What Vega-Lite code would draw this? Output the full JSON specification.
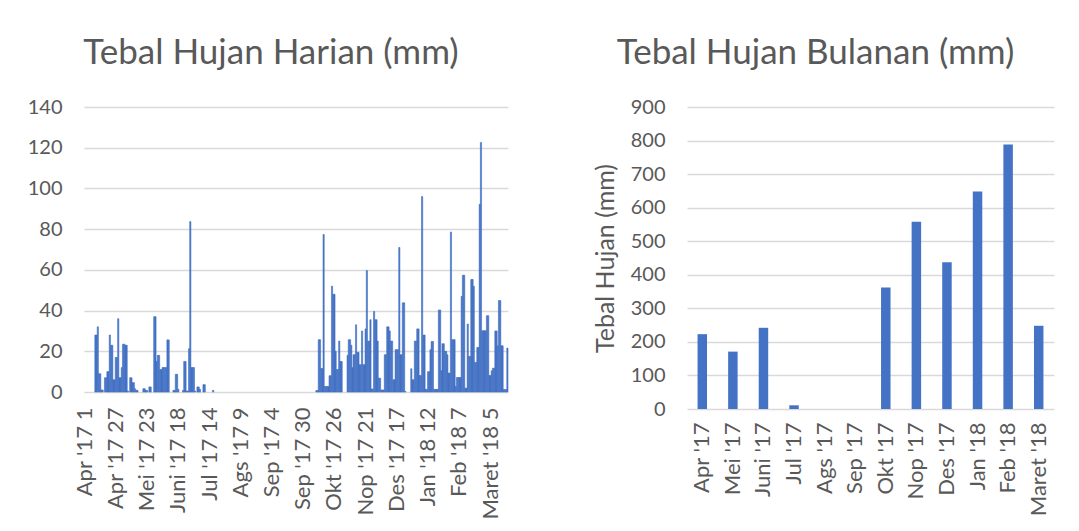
{
"$schema": "https://vega.github.io/schema/vega-lite/v6.json",
"background": "white",
"autosize": {"type": "pad"},
"padding": {"left": 27, "top": 36, "right": 5, "bottom": 5},
"spacing": 75,
"config": {
  "font": "Lato",
  "view": {"stroke": null},
  "axis": {"labelFont": "Lato", "labelColor": "#595959", "labelFontSize": 20, "ticks": false, "domain": false, "gridColor": "#d9d9d9", "gridWidth": 1.3, "titleFont": "Lato", "titleColor": "#595959", "titleFontWeight": "normal"},
  "title": {"font": "Lato", "fontSize": 35, "fontWeight": "normal", "color": "#595959", "frame": "group", "baseline": "alphabetic", "offset": 26, "anchor": "middle"}
},
"hconcat": [
{
  "width": 424, "height": 285,
  "title": {"text": "Tebal Hujan Harian (mm)", "dx": -25},
  "data": {"values": [
{"t":"Apr '17 1","v":0},{"t":"Apr '17 2","v":0},{"t":"Apr '17 3","v":0},{"t":"Apr '17 4","v":0},{"t":"Apr '17 5","v":0},{"t":"Apr '17 6","v":0},{"t":"Apr '17 7","v":0},{"t":"Apr '17 8","v":0},{"t":"Apr '17 9","v":0},{"t":"Apr '17 10","v":28},
{"t":"Apr '17 11","v":28},{"t":"Apr '17 12","v":32},{"t":"Apr '17 13","v":9},{"t":"Apr '17 14","v":9},{"t":"Apr '17 15","v":1},{"t":"Apr '17 16","v":1},{"t":"Apr '17 17","v":0},{"t":"Apr '17 18","v":7},{"t":"Apr '17 19","v":7},{"t":"Apr '17 20","v":10},
{"t":"Apr '17 21","v":10},{"t":"Apr '17 22","v":28},{"t":"Apr '17 23","v":23},{"t":"Apr '17 24","v":23},{"t":"Apr '17 25","v":6},{"t":"Apr '17 26","v":6},{"t":"Apr '17 27","v":17},{"t":"Apr '17 28","v":17},{"t":"Apr '17 29","v":36},{"t":"Apr '17 30","v":7},
{"t":"Mei '17 1","v":7},{"t":"Mei '17 2","v":12},{"t":"Mei '17 3","v":23.5},{"t":"Mei '17 4","v":23.5},{"t":"Mei '17 5","v":23},{"t":"Mei '17 6","v":23},{"t":"Mei '17 7","v":0.5},{"t":"Mei '17 8","v":0},{"t":"Mei '17 9","v":7},{"t":"Mei '17 10","v":7},
{"t":"Mei '17 11","v":4.6},{"t":"Mei '17 12","v":4.6},{"t":"Mei '17 13","v":1.6},{"t":"Mei '17 14","v":0.8},{"t":"Mei '17 15","v":0.8},{"t":"Mei '17 16","v":0},{"t":"Mei '17 17","v":0},{"t":"Mei '17 18","v":0},{"t":"Mei '17 19","v":0},{"t":"Mei '17 20","v":1.6},
{"t":"Mei '17 21","v":1.6},{"t":"Mei '17 22","v":0.8},{"t":"Mei '17 23","v":0.8},{"t":"Mei '17 24","v":0},{"t":"Mei '17 25","v":2.5},{"t":"Mei '17 26","v":2.5},{"t":"Mei '17 27","v":0},{"t":"Mei '17 28","v":0},{"t":"Mei '17 29","v":37},{"t":"Mei '17 30","v":37},{"t":"Mei '17 31","v":15},
{"t":"Juni '17 1","v":18},{"t":"Juni '17 2","v":18},{"t":"Juni '17 3","v":11},{"t":"Juni '17 4","v":11},{"t":"Juni '17 5","v":12},{"t":"Juni '17 6","v":12},{"t":"Juni '17 7","v":12},{"t":"Juni '17 8","v":12},{"t":"Juni '17 9","v":25.6},{"t":"Juni '17 10","v":25.6},
{"t":"Juni '17 11","v":0},{"t":"Juni '17 12","v":0},{"t":"Juni '17 13","v":0},{"t":"Juni '17 14","v":0.8},{"t":"Juni '17 15","v":0.8},{"t":"Juni '17 16","v":8.7},{"t":"Juni '17 17","v":8.7},{"t":"Juni '17 18","v":1.3},{"t":"Juni '17 19","v":0},{"t":"Juni '17 20","v":0},
{"t":"Juni '17 21","v":0},{"t":"Juni '17 22","v":0.8},{"t":"Juni '17 23","v":15},{"t":"Juni '17 24","v":15},{"t":"Juni '17 25","v":0.5},{"t":"Juni '17 26","v":0.5},{"t":"Juni '17 27","v":21.3},{"t":"Juni '17 28","v":83.7},{"t":"Juni '17 29","v":12},{"t":"Juni '17 30","v":12},
{"t":"Jul '17 1","v":12},{"t":"Jul '17 2","v":0.5},{"t":"Jul '17 3","v":0},{"t":"Jul '17 4","v":2.5},{"t":"Jul '17 5","v":2.5},{"t":"Jul '17 6","v":1.3},{"t":"Jul '17 7","v":0},{"t":"Jul '17 8","v":0},{"t":"Jul '17 9","v":3.6},{"t":"Jul '17 10","v":3.6},
{"t":"Jul '17 11","v":0},{"t":"Jul '17 12","v":0},{"t":"Jul '17 13","v":0},{"t":"Jul '17 14","v":0},{"t":"Jul '17 15","v":0},{"t":"Jul '17 16","v":0},{"t":"Jul '17 17","v":0.8},{"t":"Jul '17 18","v":0},{"t":"Jul '17 19","v":0},{"t":"Jul '17 20","v":0},
{"t":"Jul '17 21","v":0},{"t":"Jul '17 22","v":0},{"t":"Jul '17 23","v":0},{"t":"Jul '17 24","v":0},{"t":"Jul '17 25","v":0},{"t":"Jul '17 26","v":0},{"t":"Jul '17 27","v":0},{"t":"Jul '17 28","v":0},{"t":"Jul '17 29","v":0},{"t":"Jul '17 30","v":0},{"t":"Jul '17 31","v":0},
{"t":"Ags '17 1","v":0},{"t":"Ags '17 2","v":0},{"t":"Ags '17 3","v":0},{"t":"Ags '17 4","v":0},{"t":"Ags '17 5","v":0},{"t":"Ags '17 6","v":0},{"t":"Ags '17 7","v":0},{"t":"Ags '17 8","v":0},{"t":"Ags '17 9","v":0},{"t":"Ags '17 10","v":0},
{"t":"Ags '17 11","v":0},{"t":"Ags '17 12","v":0},{"t":"Ags '17 13","v":0},{"t":"Ags '17 14","v":0},{"t":"Ags '17 15","v":0},{"t":"Ags '17 16","v":0},{"t":"Ags '17 17","v":0},{"t":"Ags '17 18","v":0},{"t":"Ags '17 19","v":0},{"t":"Ags '17 20","v":0},
{"t":"Ags '17 21","v":0},{"t":"Ags '17 22","v":0},{"t":"Ags '17 23","v":0},{"t":"Ags '17 24","v":0},{"t":"Ags '17 25","v":0},{"t":"Ags '17 26","v":0},{"t":"Ags '17 27","v":0},{"t":"Ags '17 28","v":0},{"t":"Ags '17 29","v":0},{"t":"Ags '17 30","v":0},{"t":"Ags '17 31","v":0},
{"t":"Sep '17 1","v":0},{"t":"Sep '17 2","v":0},{"t":"Sep '17 3","v":0},{"t":"Sep '17 4","v":0},{"t":"Sep '17 5","v":0},{"t":"Sep '17 6","v":0},{"t":"Sep '17 7","v":0},{"t":"Sep '17 8","v":0},{"t":"Sep '17 9","v":0},{"t":"Sep '17 10","v":0},
{"t":"Sep '17 11","v":0},{"t":"Sep '17 12","v":0},{"t":"Sep '17 13","v":0},{"t":"Sep '17 14","v":0},{"t":"Sep '17 15","v":0},{"t":"Sep '17 16","v":0},{"t":"Sep '17 17","v":0},{"t":"Sep '17 18","v":0},{"t":"Sep '17 19","v":0},{"t":"Sep '17 20","v":0},
{"t":"Sep '17 21","v":0},{"t":"Sep '17 22","v":0},{"t":"Sep '17 23","v":0},{"t":"Sep '17 24","v":0},{"t":"Sep '17 25","v":0},{"t":"Sep '17 26","v":0},{"t":"Sep '17 27","v":0},{"t":"Sep '17 28","v":0},{"t":"Sep '17 29","v":0},{"t":"Sep '17 30","v":0},
{"t":"Okt '17 1","v":0},{"t":"Okt '17 2","v":0},{"t":"Okt '17 3","v":0},{"t":"Okt '17 4","v":0},{"t":"Okt '17 5","v":0},{"t":"Okt '17 6","v":0},{"t":"Okt '17 7","v":0},{"t":"Okt '17 8","v":0},{"t":"Okt '17 9","v":0},{"t":"Okt '17 10","v":0},
{"t":"Okt '17 11","v":0.7},{"t":"Okt '17 12","v":0.7},{"t":"Okt '17 13","v":25.7},{"t":"Okt '17 14","v":25.7},{"t":"Okt '17 15","v":11.5},{"t":"Okt '17 16","v":11.5},{"t":"Okt '17 17","v":77.4},{"t":"Okt '17 18","v":2.7},{"t":"Okt '17 19","v":2.7},{"t":"Okt '17 20","v":2.7},
{"t":"Okt '17 21","v":2.7},{"t":"Okt '17 22","v":8},{"t":"Okt '17 23","v":8},{"t":"Okt '17 24","v":52},{"t":"Okt '17 25","v":48},{"t":"Okt '17 26","v":48},{"t":"Okt '17 27","v":20},{"t":"Okt '17 28","v":11},{"t":"Okt '17 29","v":11},{"t":"Okt '17 30","v":25},{"t":"Okt '17 31","v":15},
{"t":"Nop '17 1","v":15},{"t":"Nop '17 2","v":0},{"t":"Nop '17 3","v":0},{"t":"Nop '17 4","v":0},{"t":"Nop '17 5","v":0},{"t":"Nop '17 6","v":18},{"t":"Nop '17 7","v":25.7},{"t":"Nop '17 8","v":25.7},{"t":"Nop '17 9","v":23},{"t":"Nop '17 10","v":12},
{"t":"Nop '17 11","v":18.3},{"t":"Nop '17 12","v":18.3},{"t":"Nop '17 13","v":33},{"t":"Nop '17 14","v":19.5},{"t":"Nop '17 15","v":19.5},{"t":"Nop '17 16","v":13.4},{"t":"Nop '17 17","v":13.4},{"t":"Nop '17 18","v":30},{"t":"Nop '17 19","v":13.4},{"t":"Nop '17 20","v":13.4},
{"t":"Nop '17 21","v":31},{"t":"Nop '17 22","v":59.7},{"t":"Nop '17 23","v":25},{"t":"Nop '17 24","v":25},{"t":"Nop '17 25","v":35.5},{"t":"Nop '17 26","v":1.5},{"t":"Nop '17 27","v":1.5},{"t":"Nop '17 28","v":39.6},{"t":"Nop '17 29","v":35.5},{"t":"Nop '17 30","v":35.5},
{"t":"Des '17 1","v":25},{"t":"Des '17 2","v":6.8},{"t":"Des '17 3","v":6.8},{"t":"Des '17 4","v":1},{"t":"Des '17 5","v":1},{"t":"Des '17 6","v":1},{"t":"Des '17 7","v":18.3},{"t":"Des '17 8","v":18.3},{"t":"Des '17 9","v":32},{"t":"Des '17 10","v":32},
{"t":"Des '17 11","v":30},{"t":"Des '17 12","v":25},{"t":"Des '17 13","v":25},{"t":"Des '17 14","v":6},{"t":"Des '17 15","v":6},{"t":"Des '17 16","v":20.8},{"t":"Des '17 17","v":20.8},{"t":"Des '17 18","v":20.8},{"t":"Des '17 19","v":71},{"t":"Des '17 20","v":18.3},
{"t":"Des '17 21","v":18.3},{"t":"Des '17 22","v":43.8},{"t":"Des '17 23","v":43.8},{"t":"Des '17 24","v":0.3},{"t":"Des '17 25","v":0},{"t":"Des '17 26","v":0},{"t":"Des '17 27","v":0},{"t":"Des '17 28","v":0},{"t":"Des '17 29","v":11.4},{"t":"Des '17 30","v":6},{"t":"Des '17 31","v":6},
{"t":"Jan '18 1","v":25},{"t":"Jan '18 2","v":25},{"t":"Jan '18 3","v":31},{"t":"Jan '18 4","v":31},{"t":"Jan '18 5","v":8.1},{"t":"Jan '18 6","v":8.1},{"t":"Jan '18 7","v":96},{"t":"Jan '18 8","v":28},{"t":"Jan '18 9","v":28},{"t":"Jan '18 10","v":1.3},
{"t":"Jan '18 11","v":1.3},{"t":"Jan '18 12","v":10},{"t":"Jan '18 13","v":10},{"t":"Jan '18 14","v":20.8},{"t":"Jan '18 15","v":24.8},{"t":"Jan '18 16","v":24.8},{"t":"Jan '18 17","v":1.3},{"t":"Jan '18 18","v":1.3},{"t":"Jan '18 19","v":1.3},{"t":"Jan '18 20","v":1.3},
{"t":"Jan '18 21","v":40.3},{"t":"Jan '18 22","v":40.3},{"t":"Jan '18 23","v":10.5},{"t":"Jan '18 24","v":23.7},{"t":"Jan '18 25","v":23.7},{"t":"Jan '18 26","v":20},{"t":"Jan '18 27","v":20},{"t":"Jan '18 28","v":18.3},{"t":"Jan '18 29","v":9.3},{"t":"Jan '18 30","v":9.3},{"t":"Jan '18 31","v":78.6},
{"t":"Feb '18 1","v":25.7},{"t":"Feb '18 2","v":25.7},{"t":"Feb '18 3","v":25.7},{"t":"Feb '18 4","v":2.7},{"t":"Feb '18 5","v":7.1},{"t":"Feb '18 6","v":7.1},{"t":"Feb '18 7","v":7.1},{"t":"Feb '18 8","v":7.1},{"t":"Feb '18 9","v":47},{"t":"Feb '18 10","v":57.4},
{"t":"Feb '18 11","v":57.4},{"t":"Feb '18 12","v":1.9},{"t":"Feb '18 13","v":1.9},{"t":"Feb '18 14","v":33.4},{"t":"Feb '18 15","v":17.5},{"t":"Feb '18 16","v":17.5},{"t":"Feb '18 17","v":55.3},{"t":"Feb '18 18","v":55.3},{"t":"Feb '18 19","v":52},{"t":"Feb '18 20","v":14.5},
{"t":"Feb '18 21","v":14.5},{"t":"Feb '18 22","v":21.9},{"t":"Feb '18 23","v":21.9},{"t":"Feb '18 24","v":92.2},{"t":"Feb '18 25","v":122.6},{"t":"Feb '18 26","v":30.1},{"t":"Feb '18 27","v":30.1},{"t":"Feb '18 28","v":30.1},
{"t":"Maret '18 1","v":30.1},{"t":"Maret '18 2","v":37.5},{"t":"Maret '18 3","v":37.5},{"t":"Maret '18 4","v":8.1},{"t":"Maret '18 5","v":8.1},{"t":"Maret '18 6","v":10.4},{"t":"Maret '18 7","v":11.7},{"t":"Maret '18 8","v":11.7},{"t":"Maret '18 9","v":30},{"t":"Maret '18 10","v":30},
{"t":"Maret '18 11","v":22.7},{"t":"Maret '18 12","v":44.9},{"t":"Maret '18 13","v":44.9},{"t":"Maret '18 14","v":22.7},{"t":"Maret '18 15","v":22.7},{"t":"Maret '18 16","v":1.2},{"t":"Maret '18 17","v":1.2},{"t":"Maret '18 18","v":1.2},{"t":"Maret '18 19","v":21.6}
  ]},
  "mark": {"type": "bar", "color": "#4472c4", "strokeWidth": 0.6},
  "encoding": {
    "x": {"field": "t", "type": "nominal", "sort": null,
          "scale": {"paddingInner": 0, "paddingOuter": 0},
          "axis": {"title": null, "grid": false, "labelAngle": -90, "labelPadding": 15, "labelFontSize": 22, "labelOverlap": false, "labelBound": false, "labelFlush": false,
                   "labelExpr": "indexof([\"Apr '17 1\",\"Apr '17 27\",\"Mei '17 23\",\"Juni '17 18\",\"Jul '17 14\",\"Ags '17 9\",\"Sep '17 4\",\"Sep '17 30\",\"Okt '17 26\",\"Nop '17 21\",\"Des '17 17\",\"Jan '18 12\",\"Feb '18 7\",\"Maret '18 5\"], datum.value) >= 0 ? datum.value : ''"}},
    "y": {"field": "v", "type": "quantitative", "scale": {"domain": [0, 140]},
          "axis": {"title": null, "grid": true, "values": [0,20,40,60,80,100,120,140], "labelPadding": 22}},
    "stroke": {"condition": {"test": "datum.v > 0", "value": "#4472c4"}, "value": null}
  }
},
{
  "width": 367, "height": 302,
  "title": {"text": "Tebal Hujan Bulanan (mm)", "dx": -55},
  "data": {"values": [
    {"bulan": "Apr '17", "tebal": 223},
    {"bulan": "Mei '17", "tebal": 171},
    {"bulan": "Juni '17", "tebal": 242},
    {"bulan": "Jul '17", "tebal": 11},
    {"bulan": "Ags '17", "tebal": 0},
    {"bulan": "Sep '17", "tebal": 0},
    {"bulan": "Okt '17", "tebal": 362},
    {"bulan": "Nop '17", "tebal": 558},
    {"bulan": "Des '17", "tebal": 437},
    {"bulan": "Jan '18", "tebal": 648},
    {"bulan": "Feb '18", "tebal": 788},
    {"bulan": "Maret '18", "tebal": 248}
  ]},
  "mark": {"type": "bar", "color": "#4472c4"},
  "encoding": {
    "x": {"field": "bulan", "type": "nominal", "sort": null,
          "scale": {"paddingInner": 0.69, "paddingOuter": 0.345},
          "axis": {"title": null, "grid": false, "labelAngle": -90, "labelPadding": 13, "labelFontSize": 22, "labelOverlap": false}},
    "y": {"field": "tebal", "type": "quantitative", "scale": {"domain": [0, 900]},
          "axis": {"title": "Tebal Hujan (mm)", "titleFontSize": 25, "titlePadding": 12, "grid": true, "values": [0,100,200,300,400,500,600,700,800,900], "labelPadding": 22}}
  }
}
]
}
